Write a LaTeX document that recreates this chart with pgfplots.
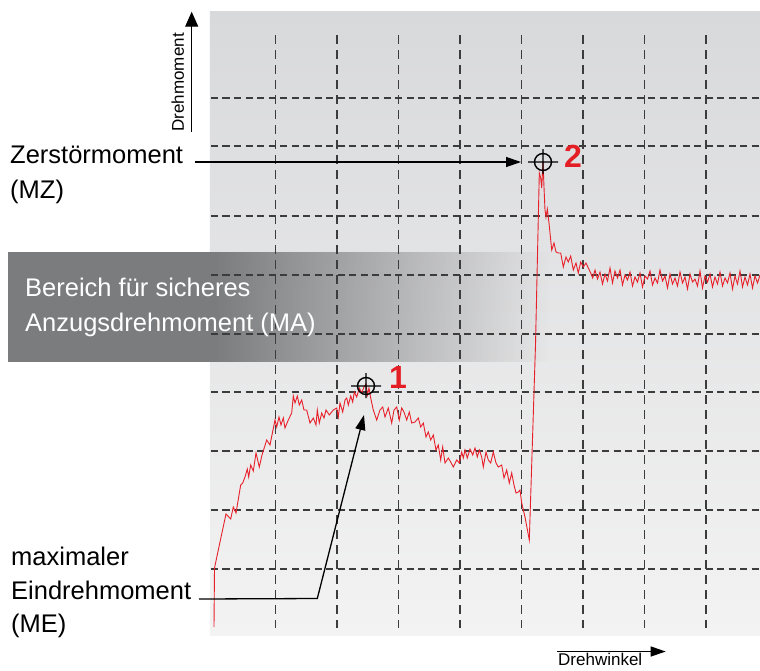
\documentclass[border=0pt]{standalone}
\usepackage{fontspec}
\setmainfont{Liberation Sans}
\usepackage{pgfplots}
\pgfplotsset{compat=1.18}
\usepackage{pgfplotstable}
\usetikzlibrary{arrows.meta,fadings}

\definecolor{bgtop}{HTML}{D8D9DB}
\definecolor{bgbot}{HTML}{F3F3F3}
\definecolor{bandgray}{HTML}{7B7C7E}
\definecolor{curvered}{HTML}{E8202A}
\definecolor{labelred}{HTML}{E31E24}
\definecolor{gridc}{HTML}{3C3C3C}

\tikzset{
  hgrid/.style={gridc, line width=1.2pt, dash pattern=on 7pt off 4.5pt},
  vgrid/.style={gridc, line width=1.2pt, dash pattern=on 9pt off 6pt},
  lbl/.style={font=\fontsize{25.5}{30}\selectfont, anchor=base west, inner sep=0pt},
}

\pgfdeclareplotmark{target}{%
  \pgfpathcircle{\pgfpointorigin}{8.5pt}%
  \pgfpathmoveto{\pgfpoint{-15pt}{0pt}}\pgfpathlineto{\pgfpoint{15pt}{0pt}}%
  \pgfpathmoveto{\pgfpoint{0pt}{-12pt}}\pgfpathlineto{\pgfpoint{0pt}{13pt}}%
  \pgfusepathqstroke}

% torque curve, in pixel coordinates of the picture (y grows downwards)
\pgfplotstableread{
x     y
214   627
214.5 568
220   542
226   514
230.7 519
233.3 507
236   513
240.7 485
242.7 483
245   477
247.3 469
248.7 477
250.7 465
253.3 471
256   453
259.3 467
262   455
266.7 440
270   445
275   420
276.7 427
279   417
281   425
283.3 418
285   428
288.3 420
291.7 413
293.3 396
295   403
297.3 396
299.3 405
301.7 400
304   410
306.7 410
310   423
313.3 418
316   425
317.3 410
319.3 423
321.7 413
324   418
326   410
329.3 415
333.3 410
336.7 408
338.3 417
340   403
342.7 412
345   400
346.7 398
348.3 405
350.7 396
352.7 402
354.3 392
356.7 397
359.3 388
361.7 393
364   387
366   384
367.5 395
369   388
370.7 398
373.3 410
376.7 420
380   410
382.7 407
385   417
388.3 408
391.7 423
394   410
396.7 407
399.3 420
401.7 408
404   412
406.7 420
409.3 412
411.7 423
415   422
418.3 418
420.7 427
423.3 423
426   437
428.3 432
430.7 440
433.3 435
436   450
438.3 445
440.7 460
442.7 447
445   463
448.3 458
450.7 462
453.3 467
456.7 460
459.3 463
461.7 452
463.3 458
465   450
467.3 458
470   449
472.7 455
475   448
477.3 457
479.3 450
481.7 457
483.3 467
486   452
488.3 460
490.7 463
493.3 452
496   463
498.3 467
501.7 465
504   478
506.7 470
509.3 483
511.7 473
514   485
516   493
518.3 492
520   490
521.7 503
525   517
529.3 540
535.5 345
539.3 173
540.7 178
541.7 188
543   162
544   187
545   210
546   217
547.3 209
549   223
551.7 250
554   243
556   252
558.3 253
560.7 253
563.3 267
566   257
568.3 262
570.7 256
573.3 270
576   263
578.3 273
580.7 262
583.3 267
586   263
588.3 268
590.7 273
592.7 278
595   270
597.5 279
600   272
602.5 284
605   274
607.5 281
610   268
612.5 283
615   271
617.5 278
620   270
622.5 285
625   275
627.5 280
630   272
632.5 286
635   277
637.5 282
640   273
642.5 287
645   276
647.5 279
650   271
652.5 285
655   278
657.5 283
660   270
662.5 281
665   276
667.5 288
670   274
672.5 284
675   278
677.5 286
680   272
682.5 283
685   277
687.5 289
690   274
692.5 282
695   279
697.5 286
700   271
702.5 288
705   276
707.5 282
710   274
712.5 287
715   277
717.5 284
720   272
722.5 286
725   278
727.5 283
730   273
732.5 289
735   276
737.5 284
740   271
742.5 287
745   277
747.5 285
750   274
752.5 288
755   276
757.5 283
760   275
}\torque

\begin{document}
\begin{tikzpicture}
\begin{axis}[
  at={(210pt,35pt)}, anchor=south west,
  scale only axis, width=550pt, height=624pt,
  xmin=210, xmax=760, ymin=11, ymax=635, y dir=reverse,
  axis lines=none, clip=false,
]
% background of the plot area
\fill[top color=bgtop, bottom color=bgbot] (axis cs:210,11) rectangle (axis cs:760,635);
% band for the safe tightening torque
\fill[bandgray] (axis cs:8,252) rectangle (axis cs:215,362);
\fill[bandgray, path fading=east] (axis cs:214.5,252) rectangle (axis cs:550,362);
% grid
\pgfplotsinvokeforeach{98,146,216,275,334,392,451,510,569}{
  \draw[hgrid] (axis cs:211,#1) -- (axis cs:760,#1);
}
\pgfplotsinvokeforeach{275.5,337,398.5,460,521.5,583,644.5,706}{
  \draw[vgrid] (axis cs:#1,35) -- (axis cs:#1,628);
}
% curve
\addplot[curvered, line width=0.9pt, mark=none] table[x=x, y=y] {\torque};
% markers at the two maxima
\addplot[only marks, mark=target, mark options={black, line width=1.4pt}]
  coordinates {(366,386) (543,162)};
\node[anchor=base west, inner sep=0pt, text=labelred, font=\fontsize{32}{32}\selectfont\bfseries] at (axis cs:389,388) {1};
\node[anchor=base west, inner sep=0pt, text=labelred, font=\fontsize{32}{32}\selectfont\bfseries] at (axis cs:564,167) {2};
% annotations
\draw[line width=1.3pt, -{Triangle[length=15pt, width=10pt]}] (axis cs:195,162) -- (axis cs:521,162);
\draw[line width=1.3pt, -{Triangle[length=15pt, width=10pt]}] (axis cs:199,599) -- (axis cs:317.3,598.5) -- (axis cs:364,415);
\node[lbl] at (axis cs:10,163) {Zerstörmoment};
\node[lbl] at (axis cs:10,198) {(MZ)};
\node[lbl] at (axis cs:11,565) {maximaler};
\node[lbl] at (axis cs:11,599) {Eindrehmoment};
\node[lbl] at (axis cs:11,632) {(ME)};
\node[lbl, text=white] at (axis cs:25,296) {Bereich für sicheres};
\node[lbl, text=white] at (axis cs:25,331) {Anzugsdrehmoment (MA)};
% axis arrows
\draw[line width=1.3pt, -{Triangle[length=15pt, width=13pt]}] (axis cs:191.7,131.7) -- (axis cs:191.7,11.7);
\node[anchor=base west, inner sep=0pt, rotate=90, font=\fontsize{17}{17}\selectfont] at (axis cs:184,131.7) {Drehmoment};
\draw[line width=1.3pt, -{Triangle[length=15pt, width=10pt]}] (axis cs:557,651.5) -- (axis cs:665.7,651.5);
\node[anchor=base west, inner sep=0pt, font=\fontsize{17}{17}\selectfont] at (axis cs:558,665.5) {Drehwinkel};
\end{axis}
\pgfresetboundingbox
\path[use as bounding box] (0pt,0pt) rectangle (760pt,670pt);
\end{tikzpicture}
\end{document}
